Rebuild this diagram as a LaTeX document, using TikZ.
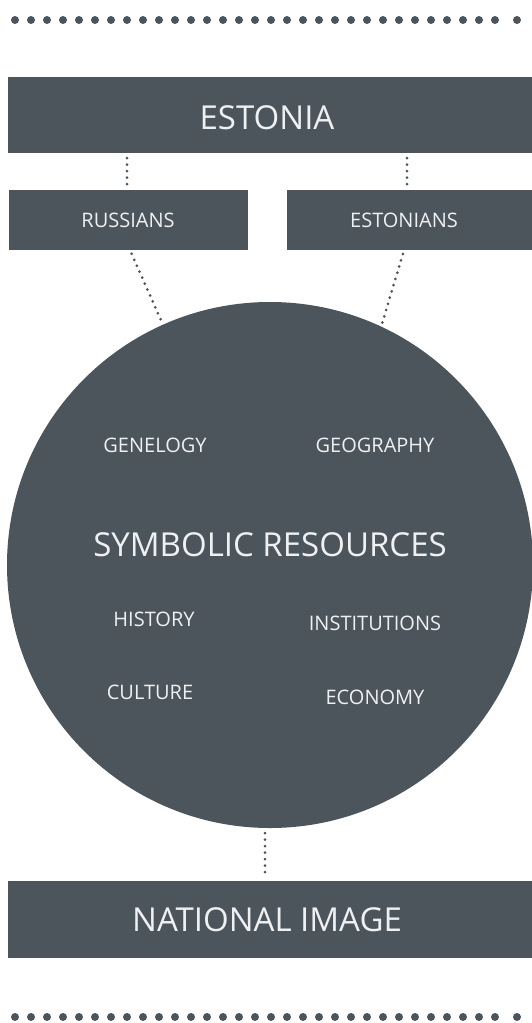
\documentclass[tikz,border=0pt]{standalone}
\usepackage{fontspec}
\setmainfont{Open Sans}
\definecolor{slate}{RGB}{77,85,92}
\definecolor{lighttext}{RGB}{238,240,241}
\begin{document}
\begin{tikzpicture}[x=1pt,y=-1pt,
  box/.style={fill=slate, inner sep=0pt, text=lighttext, anchor=center},
  bigtext/.style={font=\fontsize{33}{36}\selectfont},
  smalltext/.style={font=\fontsize{20}{24}\selectfont},
  lbl/.style={text=lighttext, inner sep=0pt},
  conn/.style={draw=slate, line width=3pt, line cap=round, dash pattern=on 0pt off 6.5pt},
  bigdots/.style={draw=slate, line width=8pt, line cap=round, dash pattern=on 0pt off 16pt}]
\useasboundingbox (0,0) rectangle (532,1023);
\fill[white] (0,0) rectangle (532,1023);

% decorative dotted rules
\coordinate (t1) at (15,20); \coordinate (t2) at (495.2,20);
\coordinate (b1) at (15,1017); \coordinate (b2) at (495.2,1017);
\draw[bigdots] (t1) -- (t2);
\fill[slate] (517,20) circle (4pt);
\draw[bigdots] (b1) -- (b2);
\fill[slate] (517,1017) circle (4pt);

% boxes
\node[box, minimum width=524pt, minimum height=76pt] (estonia) at (270,115) {};
\node[lbl, bigtext] (estonialbl) at (267,118) {ESTONIA};
\node[box, minimum width=239pt, minimum height=60pt] (russians) at (128.5,220) {};
\node[lbl, smalltext] (russianslbl) at (128,220.5) {RUSSIANS};
\node[box, minimum width=245pt, minimum height=60pt] (estonians) at (409.5,220) {};
\node[lbl, smalltext] (estonianslbl) at (404,220.5) {ESTONIANS};

% circle
\node[circle, fill=slate, minimum size=526pt, inner sep=0pt] (sym) at (270,565) {};
\node[lbl, smalltext] (gen) at (155,445) {GENELOGY};
\node[lbl, smalltext] (geo) at (375,445) {GEOGRAPHY};
\node[lbl, bigtext] (symlbl) at (270,545) {SYMBOLIC RESOURCES};
\node[lbl, smalltext] (hist) at (154,619) {HISTORY};
\node[lbl, smalltext] (inst) at (375,623) {INSTITUTIONS};
\node[lbl, smalltext] (cult) at (150,692) {CULTURE};
\node[lbl, smalltext] (econ) at (375,697) {ECONOMY};

% bottom box
\node[box, minimum width=524pt, minimum height=77pt] (national) at (270,919.5) {};
\node[lbl, bigtext] (nationallbl) at (267,919.5) {NATIONAL IMAGE};

% connectors
\draw[conn, shorten <=5pt, shorten >=5pt] ([xshift=-1.5pt]russians.north |- estonia.south) -- ([xshift=-1.5pt]russians.north);
\draw[conn, shorten <=5pt, shorten >=5pt] ([xshift=-2.5pt]estonians.north |- estonia.south) -- ([xshift=-2.5pt]estonians.north);
\draw[conn, shorten <=4pt] ([xshift=1.5pt]russians.south) -- (sym.114.7);
\draw[conn, shorten <=4pt] ([xshift=-5.5pt]estonians.south) -- (sym.65.6);
\draw[conn, shorten <=5pt, shorten >=5pt] ([xshift=-5pt]sym.south) -- ([xshift=-5pt]national.north);
\end{tikzpicture}
\end{document}
